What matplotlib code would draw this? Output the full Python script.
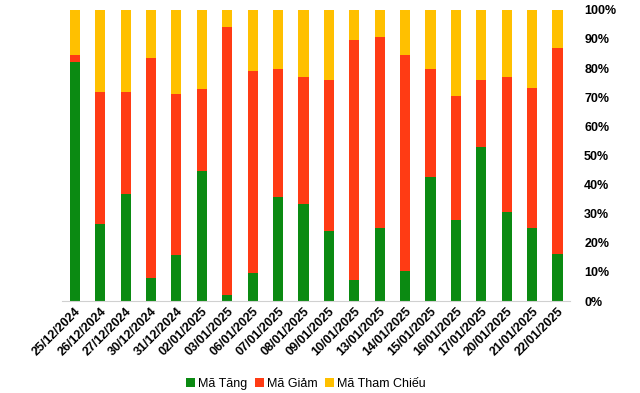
import matplotlib
matplotlib.use("Agg")
import matplotlib.pyplot as plt
import numpy as np
from matplotlib.ticker import PercentFormatter

dates = ["25/12/2024", "26/12/2024", "27/12/2024", "30/12/2024", "31/12/2024",
         "02/01/2025", "03/01/2025", "06/01/2025", "07/01/2025", "08/01/2025",
         "09/01/2025", "10/01/2025", "13/01/2025", "14/01/2025", "15/01/2025",
         "16/01/2025", "17/01/2025", "20/01/2025", "21/01/2025", "22/01/2025"]
tang = [82.2, 26.6, 36.9, 8.0, 15.8, 44.7, 2.1, 9.6, 35.7, 33.4,
        24.2, 7.3, 25.1, 10.3, 42.6, 27.8, 53.0, 30.6, 25.1, 16.2]
giam = [2.3, 45.2, 34.9, 75.5, 55.3, 28.2, 92.1, 69.4, 44.0, 43.6,
        51.7, 82.4, 65.6, 74.2, 37.1, 42.6, 22.9, 46.4, 48.1, 70.7]
tham_chieu = [100 - a - b for a, b in zip(tang, giam)]

colors = ["#0B8A12", "#FF3B14", "#FFC000"]
labels = ["Mã Tăng", "Mã Giảm", "Mã Tham Chiếu"]

plt.rcParams["font.family"] = ["Liberation Sans", "DejaVu Sans"]

fig = plt.figure(figsize=(6.4, 3.93), dpi=100)
ax = fig.add_axes([0.097, 0.234, 0.794, 0.741])

x = np.arange(len(dates))
bottom = np.zeros(len(dates))
for vals, c, lab in zip([tang, giam, tham_chieu], colors, labels):
    ax.bar(x, vals, width=0.4, bottom=bottom, color=c, label=lab)
    bottom += np.asarray(vals)

ax.set_xlim(-0.5, len(dates) - 0.5)
ax.set_ylim(0, 100)
ax.set_yticks(np.arange(0, 101, 10))
ax.yaxis.set_major_formatter(PercentFormatter(decimals=0))
ax.yaxis.tick_right()
ax.tick_params(axis="y", length=0, pad=10, labelsize=9)
ax.tick_params(axis="x", length=0, pad=3, labelsize=9)
for t in ax.get_yticklabels():
    t.set_fontweight("bold")

ax.set_xticks(x)
ax.set_xticklabels(dates, rotation=45, ha="right", rotation_mode="anchor",
                   fontweight="bold")

for s in ["top", "left", "right"]:
    ax.spines[s].set_visible(False)
ax.spines["bottom"].set_color("#d0d0d0")

fig.legend(loc="center", bbox_to_anchor=(0.478, 0.023), ncol=3, frameon=False,
           handlelength=0.7, handleheight=0.7, handletextpad=0.25, columnspacing=0.6,
           prop={"size": 9})

fig.savefig("out.png", dpi=100)
